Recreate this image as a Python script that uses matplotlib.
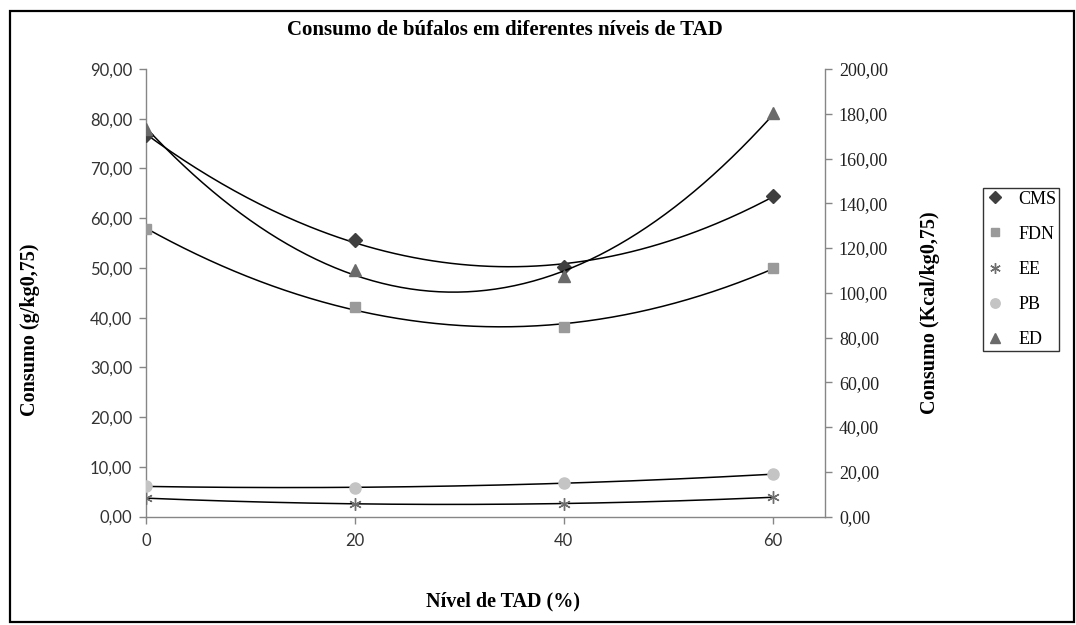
import numpy as np
import matplotlib
matplotlib.use("Agg")
import matplotlib.pyplot as plt
from matplotlib.patches import Rectangle

# Data
niveis = [0, 20, 40, 60]
cms = [76.7, 55.7, 50.2, 64.5]
fdn = [57.8, 42.1, 38.2, 50.0]
ee = [3.7, 2.6, 2.6, 3.9]
pb = [6.1, 5.8, 6.8, 8.5]
ed = [173.0, 110.0, 107.6, 180.2]

left_ticks = [0, 10, 20, 30, 40, 50, 60, 70, 80, 90]
right_ticks = [0, 20, 40, 60, 80, 100, 120, 140, 160, 180, 200]
x_ticks = [0, 20, 40, 60]

serif = "Liberation Serif"
sans = "Lato"

fig = plt.figure(figsize=(10.76, 6.25), dpi=100)
fig.patches.append(Rectangle((10/1076, 3/625), 1064/1076, 611/625, transform=fig.transFigure,
                             fill=False, edgecolor="black", linewidth=1.6, zorder=0))

ax = fig.add_axes([146/1076, 108.4/625, 679/1076, 447.6/625])
ax2 = ax.twinx()

def fmt(v):
    return f"{v:.2f}".replace(".", ",")

series_left = [
    ("CMS", cms, "D", "#3f3f3f", 7),
    ("FDN", fdn, "s", "#9a9a9a", 7.5),
    ("EE", ee, (6, 2, 0), "#6e6e6e", 9),
    ("PB", pb, "o", "#c4c4c4", 8),
]
xs = np.linspace(0, 60, 200)
handles = []
for name, vals, mk, col, ms in series_left:
    c = np.polyfit(niveis, vals, 2)
    ax.plot(xs, np.polyval(c, xs), color="black", lw=1.1, zorder=3)
    h, = ax.plot(niveis, vals, linestyle="none", marker=mk, color=col, mec=col,
                 markersize=ms, mew=1.0, zorder=4, label=name)
    handles.append(h)

c = np.polyfit(niveis, ed, 2)
ax2.plot(xs, np.polyval(c, xs), color="black", lw=1.1, zorder=3)
h, = ax2.plot(niveis, ed, linestyle="none", marker="^", color="#6a6a6a", markersize=8, zorder=4, label="ED")
handles.append(h)

ax.set_xlim(0, 65)
ax.set_ylim(0, 90)
ax2.set_ylim(0, 200)
ax.set_xticks(x_ticks)
ax.set_xticklabels([str(v) for v in x_ticks], fontfamily=sans, fontsize=12, color="#333333")
ax.set_yticks(left_ticks)
ax.set_yticklabels([fmt(v) for v in left_ticks], fontfamily=sans, fontsize=12, color="#333333")
ax2.set_yticks(right_ticks)
ax2.set_yticklabels([fmt(v) for v in right_ticks], fontfamily=serif, fontsize=13, color="#222222")

gray = "#868686"
for a in (ax, ax2):
    a.spines["top"].set_visible(False)
    for s in ("left", "right", "bottom"):
        a.spines[s].set_color(gray)
        a.spines[s].set_linewidth(1.0)
    a.tick_params(direction="out", length=5, color=gray, width=1.0)
ax2.spines["left"].set_visible(False)
ax2.spines["bottom"].set_visible(False)
ax.spines["right"].set_visible(False)
ax.tick_params(axis="x", pad=7)
ax.tick_params(axis="y", pad=5)
ax2.tick_params(axis="y", pad=5)

fig.text(505/1076, 1 - 30/625, "Consumo de búfalos em diferentes níveis de TAD", ha="center", va="center",
         fontfamily=serif, fontweight="bold", fontsize=15)
fig.text(503/1076, 1 - 601/625, "Nível de TAD (%)", ha="center", va="center",
         fontfamily=serif, fontweight="bold", fontsize=14.5)
fig.text(30/1076, 1 - 330/625, "Consumo (g/kg0,75)", ha="center", va="center", rotation=90,
         fontfamily=serif, fontweight="bold", fontsize=14.5)
fig.text(930/1076, 1 - 313/625, "Consumo (Kcal/kg0,75)", ha="center", va="center", rotation=90,
         fontfamily=serif, fontweight="bold", fontsize=14.5)

leg = fig.legend(handles=handles, loc="upper left", bbox_to_anchor=(983/1076, 1 - 188/625),
                 frameon=True, fancybox=False, edgecolor="black", prop={"family": serif, "size": 13},
                 labelspacing=1.0, handlelength=1.0, handletextpad=0.8, borderpad=0.15,
                 borderaxespad=0, markerscale=0.85)
leg.get_frame().set_linewidth(1.0)

fig.savefig("out.png", dpi=100)
